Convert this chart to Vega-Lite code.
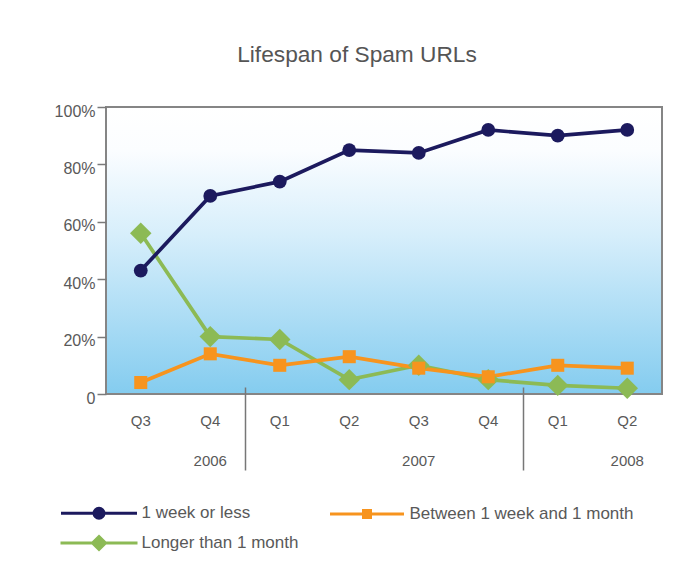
{
  "$schema": "https://vega.github.io/schema/vega-lite/v6.json",
  "width": 556,
  "height": 287,
  "autosize": "none",
  "padding": {"left": 106, "top": 107, "right": 30, "bottom": 188},
  "background": "white",
  "title": {
    "text": "Lifespan of Spam URLs",
    "fontSize": 22.7,
    "font": "Liberation Sans",
    "fontWeight": "normal",
    "color": "#555555",
    "anchor": "middle",
    "frame": "group",
    "dx": -27,
    "baseline": "alphabetic",
    "offset": 18
  },
  "config": {
    "font": "Liberation Sans",
    "view": {
      "stroke": "#858585",
      "strokeWidth": 2,
      "fill": {
        "gradient": "linear",
        "x1": 0, "y1": 0, "x2": 0, "y2": 1,
        "stops": [
          {"offset": 0, "color": "#ffffff"},
          {"offset": 0.15, "color": "#fbfdff"},
          {"offset": 0.45, "color": "#d6eefb"},
          {"offset": 1, "color": "#84ccef"}
        ]
      }
    },
    "axis": {"labelFont": "Liberation Sans", "labelColor": "#595959", "grid": false, "title": null}
  },
  "data": {
    "values": [
      {"period": "2006 Q3", "series": "Longer than 1 month", "value": 56},
      {"period": "2006 Q4", "series": "Longer than 1 month", "value": 20},
      {"period": "2007 Q1", "series": "Longer than 1 month", "value": 19},
      {"period": "2007 Q2", "series": "Longer than 1 month", "value": 5},
      {"period": "2007 Q3", "series": "Longer than 1 month", "value": 10},
      {"period": "2007 Q4", "series": "Longer than 1 month", "value": 5},
      {"period": "2008 Q1", "series": "Longer than 1 month", "value": 3},
      {"period": "2008 Q2", "series": "Longer than 1 month", "value": 2},
      {"period": "2006 Q3", "series": "Between 1 week and 1 month", "value": 4},
      {"period": "2006 Q4", "series": "Between 1 week and 1 month", "value": 14},
      {"period": "2007 Q1", "series": "Between 1 week and 1 month", "value": 10},
      {"period": "2007 Q2", "series": "Between 1 week and 1 month", "value": 13},
      {"period": "2007 Q3", "series": "Between 1 week and 1 month", "value": 9},
      {"period": "2007 Q4", "series": "Between 1 week and 1 month", "value": 6},
      {"period": "2008 Q1", "series": "Between 1 week and 1 month", "value": 10},
      {"period": "2008 Q2", "series": "Between 1 week and 1 month", "value": 9},
      {"period": "2006 Q3", "series": "1 week or less", "value": 43},
      {"period": "2006 Q4", "series": "1 week or less", "value": 69},
      {"period": "2007 Q1", "series": "1 week or less", "value": 74},
      {"period": "2007 Q2", "series": "1 week or less", "value": 85},
      {"period": "2007 Q3", "series": "1 week or less", "value": 84},
      {"period": "2007 Q4", "series": "1 week or less", "value": 92},
      {"period": "2008 Q1", "series": "1 week or less", "value": 90},
      {"period": "2008 Q2", "series": "1 week or less", "value": 92}
    ]
  },
  "encoding": {
    "y": {
      "field": "value",
      "type": "quantitative",
      "scale": {"domain": [0, 100], "nice": false},
      "axis": {
        "values": [0, 20, 40, 60, 80, 100],
        "labelExpr": "datum.value == 0 ? '0' : datum.value + '%'",
        "title": null,
        "domain": false,
        "tickColor": "#7a7a7a",
        "tickSize": 9,
        "tickWidth": 1.5,
        "labelPadding": 2,
        "labelFontSize": 16,
        "labelOffset": 4,
        "zindex": 1
      }
    }
  },
  "layer": [
    {
      "mark": {"type": "line", "strokeWidth": 3.7},
      "encoding": {
        "x": {
          "field": "period", "type": "nominal", "sort": null,
          "scale": {"type": "band", "paddingInner": 0, "paddingOuter": 0},
          "axis": {
            "orient": "bottom",
            "labelExpr": "split(datum.label, ' ')[1]",
            "ticks": false, "domain": false, "title": null,
            "labelAngle": 0, "labelFontSize": 15, "labelPadding": 19
          }
        },
        "color": {
          "field": "series", "type": "nominal",
          "scale": {
            "domain": ["1 week or less", "Between 1 week and 1 month", "Longer than 1 month"],
            "range": ["#1c1a5e", "#f7941e", "#8cba55"]
          },
          "legend": {
            "orient": "none",
            "direction": "horizontal",
            "legendX": -15.5,
            "legendY": 397.5,
            "title": null,
            "columns": 2,
            "columnPadding": 25,
            "rowPadding": 6,
            "labelFontSize": 17,
            "labelColor": "#595959",
            "labelFont": "Liberation Sans",
            "labelLimit": 400,
            "symbolSize": 100,
            "symbolStrokeWidth": 3,
            "symbolOpacity": 1,
            "labelOffset": 34
          }
        }
      }
    },
    {
      "transform": [{"filter": "datum.series === 'Longer than 1 month'"}],
      "mark": {"type": "point", "filled": true, "opacity": 1, "shape": "diamond", "size": 460, "color": "#8cba55"},
      "encoding": {
        "x": {"field": "period", "type": "nominal", "sort": null, "axis": null}
      }
    },
    {
      "transform": [{"filter": "datum.series === 'Between 1 week and 1 month'"}],
      "mark": {"type": "point", "filled": true, "opacity": 1, "shape": "square", "size": 170, "color": "#f7941e"},
      "encoding": {
        "x": {"field": "period", "type": "nominal", "sort": null, "axis": null}
      }
    },
    {
      "transform": [{"filter": "datum.series === '1 week or less'"}],
      "mark": {"type": "point", "filled": true, "opacity": 1, "shape": "circle", "size": 190, "color": "#1c1a5e"},
      "encoding": {
        "x": {"field": "period", "type": "nominal", "sort": null, "axis": null}
      }
    },
    {
      "mark": {"type": "point", "opacity": 0, "size": 100, "strokeWidth": 3},
      "encoding": {
        "x": {"field": "period", "type": "nominal", "sort": null, "axis": null},
        "color": {"field": "series", "type": "nominal"},
        "shape": {
          "field": "series", "type": "nominal",
          "scale": {
            "domain": ["1 week or less", "Between 1 week and 1 month", "Longer than 1 month"],
            "range": [
              "M-7.6,0H7.6M1,0A1,1,0,1,1,-1,0A1,1,0,1,1,1,0M0.85,0A0.85,0.85,0,1,1,-0.85,0A0.85,0.85,0,1,1,0.85,0M0.55,0A0.55,0.55,0,1,1,-0.55,0A0.55,0.55,0,1,1,0.55,0M0.25,0A0.25,0.25,0,1,1,-0.25,0A0.25,0.25,0,1,1,0.25,0",
              "M-7.4,0H7.4M-0.7,-0.7H0.7V0.7H-0.7ZM-0.4,-0.4H0.4V0.4H-0.4ZM-0.1,-0.1H0.1V0.1H-0.1Z",
              "M-7.7,0H7.7M0,-1.3L1.3,0L0,1.3L-1.3,0ZM0,-0.9L0.9,0L0,0.9L-0.9,0ZM0,-0.5L0.5,0L0,0.5L-0.5,0ZM0,-0.1L0.1,0L0,0.1L-0.1,0Z"
            ]
          },
          "legend": {
            "orient": "none",
            "direction": "horizontal",
            "legendX": -15.5,
            "legendY": 397.5,
            "title": null,
            "columns": 2,
            "columnPadding": 25,
            "rowPadding": 6,
            "labelFontSize": 17,
            "labelColor": "#595959",
            "labelFont": "Liberation Sans",
            "labelLimit": 400,
            "symbolSize": 100,
            "symbolStrokeWidth": 3,
            "symbolOpacity": 1,
            "labelOffset": 34
          }
        }
      }
    },
    {
      "mark": {"type": "point", "opacity": 0},
      "encoding": {
        "x": {
          "field": "period", "type": "nominal", "sort": null,
          "axis": {
            "orient": "bottom",
            "values": ["2006 Q4", "2007 Q3", "2008 Q2"],
            "bandPosition": 0,
            "labelExpr": "split(datum.label, ' ')[0]",
            "ticks": false, "domain": false, "title": null,
            "labelAngle": 0, "labelFontSize": 15, "labelPadding": 59
          }
        }
      }
    },
    {
      "mark": {"type": "point", "opacity": 0},
      "encoding": {
        "x": {
          "field": "period", "type": "nominal", "sort": null,
          "axis": {
            "orient": "bottom",
            "values": ["2007 Q1", "2008 Q1"],
            "bandPosition": 0,
            "labels": false, "domain": false, "title": null,
            "ticks": true, "tickSize": 83, "tickColor": "#777777", "tickWidth": 1.5,
            "offset": -7, "zindex": 1
          }
        }
      }
    }
  ],
  "resolve": {"axis": {"x": "independent"}}
}
